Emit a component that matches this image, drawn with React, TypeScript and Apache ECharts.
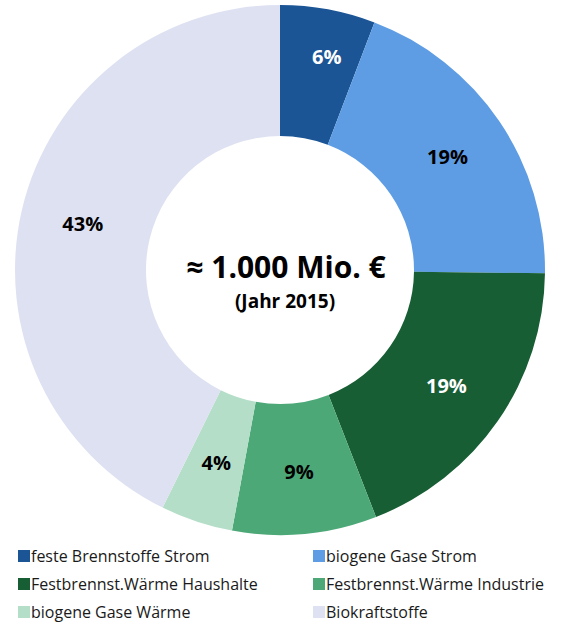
import React, { useEffect, useRef } from "react";
import * as echarts from "echarts";

const categories = [
  "feste Brennstoffe Strom",
  "biogene Gase Strom",
  "Festbrennst.Wärme Haushalte",
  "Festbrennst.Wärme Industrie",
  "biogene Gase Wärme",
  "Biokraftstoffe",
];
const values = [5.8, 19.4, 18.9, 8.8, 4.4, 42.7];
const colors = ["#1B5596", "#5E9DE4", "#185E34", "#4DA878", "#B4DEC8", "#DEE1F1"];
const labelColors = ["#ffffff", "#000000", "#ffffff", "#000000", "#000000", "#000000"];
const centerTitle = "≈ 1.000 Mio. €";
const centerSub = "(Jahr 2015)";
const leftLegend = [categories[0], categories[2], categories[4]];
const rightLegend = [categories[1], categories[3], categories[5]];

const FONT = "'Open Sans', sans-serif";

export default function App() {
  const ref = useRef<HTMLDivElement>(null);
  useEffect(() => {
    if (!ref.current) return;
    const chart = echarts.init(ref.current, null, { renderer: "svg" });
    const legendCommon = {
      orient: "vertical" as const,
      top: 546,
      height: 79,
      padding: 0,
      itemWidth: 12,
      itemHeight: 12,
      itemGap: 8,
      icon: "rect",
      textStyle: { fontFamily: FONT, fontSize: 16, color: "#1a1a1a", padding: [0, 0, 0, -4], lineHeight: 20 },
    };
    chart.setOption({
      animation: false,
      backgroundColor: "#ffffff",
      legend: [
        { ...legendCommon, left: 18, data: leftLegend },
        { ...legendCommon, left: 313, data: rightLegend },
      ],
      title: [
        {
          text: centerTitle,
          left: 281,
          top: 246,
          textAlign: "center",
          textStyle: { fontFamily: FONT, fontSize: 30, fontWeight: "bold", color: "#000" },
        },
        {
          text: centerSub,
          left: 280,
          top: 286,
          textAlign: "center",
          textStyle: { fontFamily: FONT, fontSize: 19, fontWeight: "bold", color: "#000" },
        },
      ],
      series: [
        {
          type: "pie",
          center: [280, 270],
          radius: [134, 265],
          startAngle: 90,
          clockwise: true,
          avoidLabelOverlap: false,
          label: {
            show: true,
            position: "inside",
            formatter: (p: any) => `${Math.round(p.percent)}%`,
            fontFamily: FONT,
            fontSize: 20,
            fontWeight: "bold",
          },
          labelLine: { show: false },
          emphasis: { disabled: true },
          data: categories.map((name, i) => ({
            name,
            value: values[i],
            itemStyle: { color: colors[i] },
            label: i === 0 ? { color: labelColors[i], offset: [10, -14] } : { color: labelColors[i] },
          })),
        },
      ],
    });
    return () => chart.dispose();
  }, []);
  return (
    <div
      ref={ref}
      style={{ position: "fixed", left: 0, top: 0, width: 575, height: 625 }}
    />
  );
}
